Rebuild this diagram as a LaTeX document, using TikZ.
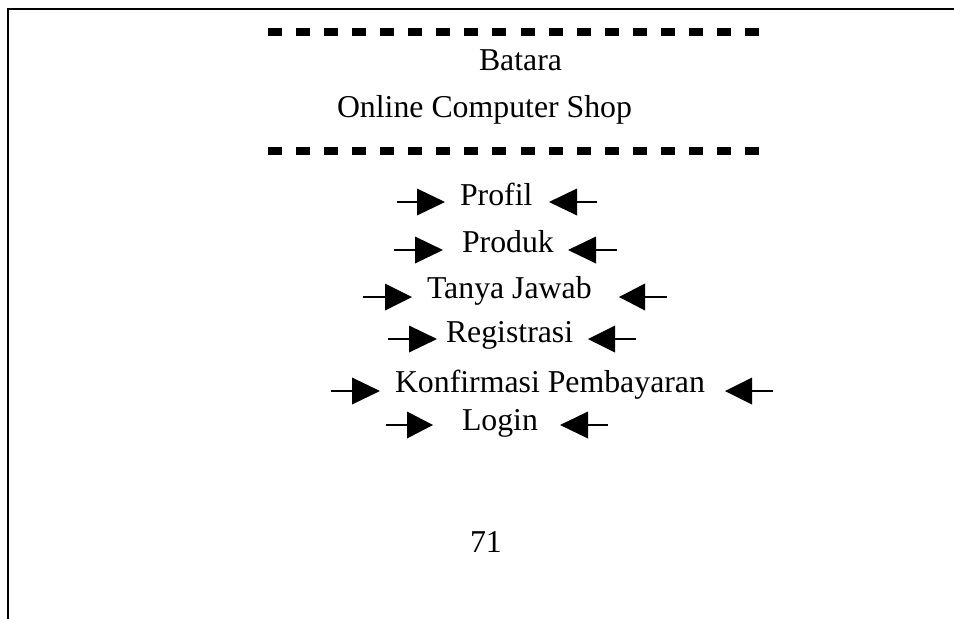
\documentclass[tikz,border=0pt]{standalone}
\usepackage{fontspec}
\setmainfont{Liberation Serif}
\begin{document}
\begin{tikzpicture}[x=1pt,y=-1pt,
  lbl/.style={inner sep=0pt,outer sep=0pt,anchor=base west,font=\fontsize{31.8}{38}\selectfont},
  frameline/.style={line width=2pt,black},
  dotrule/.style={line width=8pt,dash pattern=on 14pt off 14.06pt,black},
  shaft/.style={line width=2pt,black}]
\useasboundingbox (0,0) rectangle (954,619);
% frame
\coordinate (fr1) at (954,9);
\coordinate (fr2) at (8,9);
\coordinate (fr3) at (8,619);
\draw[frameline] (fr1) -- (fr2) -- (fr3);
% dotted rules
\coordinate (d1a) at (268,32);
\coordinate (d1b) at (759,32);
\coordinate (d2a) at (268,151);
\coordinate (d2b) at (759,151);
\draw[dotrule] (d1a) -- (d1b);
\draw[dotrule] (d2a) -- (d2b);
% titles
\node[lbl] (batara) at (479,70) {Batara};
\node[lbl] (shop) at (337,117) {Online Computer Shop};
\node[lbl] (page) at (470,552) {71};
% menu items with arrows
\foreach \nm/\txt/\tx/\bl/\ac/\ls/\lb/\lt/\rt/\rb/\re in {
  profil/Profil/460/205/202/397/417/445/549/577/597,
  produk/Produk/462/252/250/394/415/443/568/596/617,
  tanya/Tanya Jawab/427/298/297/363/385/412/619/645/667,
  regis/Registrasi/446/342/339/388/409/437/588/615/636,
  konf/Konfirmasi Pembayaran/395/392/391/331/352/380/725/752/773,
  login/Login/462/430/425/386/407/433/560/588/608}{
  \node[lbl] (\nm) at (\tx,\bl) {\txt};
  \coordinate (\nm ls) at (\ls,\ac);
  \coordinate (\nm lb) at (\lb,\ac);
  \coordinate (\nm lt) at (\lt,\ac);
  \coordinate (\nm rt) at (\rt,\ac);
  \coordinate (\nm rb) at (\rb,\ac);
  \coordinate (\nm re) at (\re,\ac);
  \draw[shaft] (\nm ls) -- (\nm lb);
  \fill ([yshift=13.5pt]\nm lb) -- (\nm lt) -- ([yshift=-13.5pt]\nm lb) -- cycle;
  \draw[shaft] (\nm re) -- (\nm rb);
  \fill ([yshift=13.5pt]\nm rb) -- (\nm rt) -- ([yshift=-13.5pt]\nm rb) -- cycle;
}
\end{tikzpicture}
\end{document}
